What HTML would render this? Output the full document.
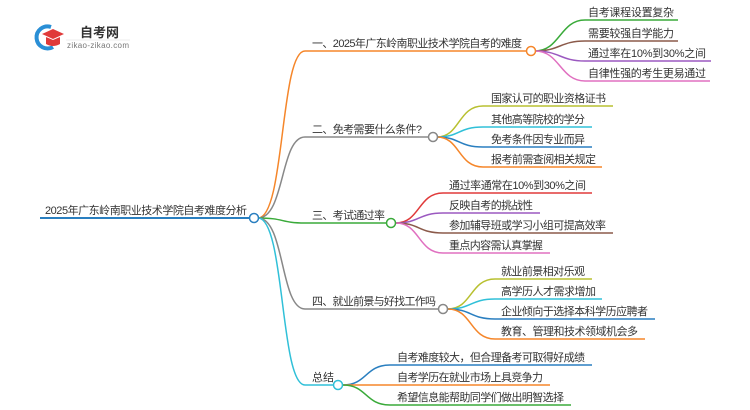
<!DOCTYPE html>
<html><head><meta charset="utf-8"><style>
html,body{margin:0;padding:0;background:#fff;}
svg{display:block;}
text{font-family:"Liberation Sans","Noto Sans CJK SC",sans-serif;font-size:11px;fill:#333;}
</style></head><body>
<svg width="750" height="410" viewBox="0 0 750 410" xmlns="http://www.w3.org/2000/svg">
<!-- logo -->
<path d="M51 27 A11 11 0 1 0 53 47" fill="none" stroke="#2a8fd6" stroke-width="4"/>
<path d="M42 34 L53 29 L64 34 L53 39 Z" fill="#e03a3a"/>
<path d="M46 37 L46 44 Q53 48 60 44 L60 37 L53 40 Z" fill="#e03a3a"/>
<text x="80" y="37" style="font-size:13px;font-weight:bold;fill:#333">自考网</text>
<line x1="66" y1="40" x2="130" y2="40" stroke="#ddd" stroke-width="0.6"/>
<text x="67" y="48" style="font-size:8px;fill:#777" textLength="62" lengthAdjust="spacing">zikao-zikao.com</text>

<g fill="none" stroke-width="1.5">
<path d="M258 218 C285 218 280 51 305 51 L527 51" stroke="#f5862a"/>
<path d="M258 218 C285 218 280 137 305 137 L428 137" stroke="#888"/>
<path d="M258 218 C285 218 280 223 305 223 L387 223" stroke="#3aaa3a"/>
<path d="M258 218 C285 218 280 309 305 309 L439 309" stroke="#888"/>
<path d="M258 218 C285 218 280 385 305 385 L334 385" stroke="#30c0d8"/>
<line x1="40" y1="218" x2="250" y2="218" stroke="#2a7fc0" stroke-width="2"/>
<path d="M535 51 C560 51 560 20 585 20 L678 20" stroke="#3aaa3a"/>
<path d="M535 51 C560 51 560 41 585 41 L678 41" stroke="#8b5a4a"/>
<path d="M535 51 C560 51 560 61 585 61 L711 61" stroke="#9b59c0"/>
<path d="M535 51 C560 51 560 81 585 81 L710 81" stroke="#e070c0"/>
<path d="M437 137 C460 137 458 106 483 106 L613 106" stroke="#b8c030"/>
<path d="M437 137 C460 137 458 127 483 127 L592 127" stroke="#30c0d8"/>
<path d="M437 137 C460 137 458 147 483 147 L592 147" stroke="#2a7fc0"/>
<path d="M437 137 C460 137 458 167 483 167 L602 167" stroke="#f5862a"/>
<path d="M396 223 C420 223 418 193 443 193 L592 193" stroke="#e03a3a"/>
<path d="M396 223 C420 223 418 213 443 213 L540 213" stroke="#9b59c0"/>
<path d="M396 223 C420 223 418 233 443 233 L613 233" stroke="#8b5a4a"/>
<path d="M396 223 C420 223 418 253 443 253 L550 253" stroke="#e070c0"/>
<path d="M448 309 C472 309 470 279 495 279 L592 279" stroke="#b8c030"/>
<path d="M448 309 C472 309 470 299 495 299 L602 299" stroke="#30c0d8"/>
<path d="M448 309 C472 309 470 319 495 319 L655 319" stroke="#2a7fc0"/>
<path d="M448 309 C472 309 470 339 495 339 L645 339" stroke="#f5862a"/>
<path d="M343 385 C367 385 365 365 390 365 L592 365" stroke="#2a7fc0"/>
<path d="M343 385 C367 385 365 385 390 385 L550 385" stroke="#f5862a"/>
<path d="M343 385 C367 385 365 405 390 405 L571 405" stroke="#3aaa3a"/>
</g>
<g fill="#fff" stroke-width="1.5">
<circle cx="254" cy="218" r="4.5" stroke="#2a7fc0"/>
<circle cx="531" cy="51" r="4.5" stroke="#f5862a"/>
<circle cx="433" cy="137" r="4.5" stroke="#888"/>
<circle cx="391" cy="223" r="4.5" stroke="#3aaa3a"/>
<circle cx="443" cy="309" r="4.5" stroke="#888"/>
<circle cx="338" cy="385" r="4.5" stroke="#30c0d8"/>
</g>
<g>
<text x="45" y="214" textLength="202" lengthAdjust="spacing">2025年广东岭南职业技术学院自考难度分析</text>
<text x="312" y="47" textLength="210" lengthAdjust="spacing">一、2025年广东岭南职业技术学院自考的难度</text>
<text x="312" y="133" textLength="110" lengthAdjust="spacing">二、免考需要什么条件?</text>
<text x="312" y="219" textLength="73" lengthAdjust="spacing">三、考试通过率</text>
<text x="312" y="305" textLength="124" lengthAdjust="spacing">四、就业前景与好找工作吗</text>
<text x="312" y="381" textLength="22" lengthAdjust="spacing">总结</text>

<text x="588" y="16" textLength="86" lengthAdjust="spacing">自考课程设置复杂</text>
<text x="588" y="37" textLength="86" lengthAdjust="spacing">需要较强自学能力</text>
<text x="588" y="57" textLength="118" lengthAdjust="spacing">通过率在10%到30%之间</text>
<text x="588" y="77" textLength="118" lengthAdjust="spacing">自律性强的考生更易通过</text>

<text x="491" y="102" textLength="115" lengthAdjust="spacing">国家认可的职业资格证书</text>
<text x="491" y="123" textLength="94" lengthAdjust="spacing">其他高等院校的学分</text>
<text x="491" y="143" textLength="94" lengthAdjust="spacing">免考条件因专业而异</text>
<text x="491" y="163" textLength="105" lengthAdjust="spacing">报考前需查阅相关规定</text>

<text x="449" y="189" textLength="137" lengthAdjust="spacing">通过率通常在10%到30%之间</text>
<text x="449" y="209" textLength="84" lengthAdjust="spacing">反映自考的挑战性</text>
<text x="449" y="229" textLength="157" lengthAdjust="spacing">参加辅导班或学习小组可提高效率</text>
<text x="449" y="249" textLength="94" lengthAdjust="spacing">重点内容需认真掌握</text>

<text x="501" y="275" textLength="84" lengthAdjust="spacing">就业前景相对乐观</text>
<text x="501" y="295" textLength="95" lengthAdjust="spacing">高学历人才需求增加</text>
<text x="501" y="315" textLength="147" lengthAdjust="spacing">企业倾向于选择本科学历应聘者</text>
<text x="501" y="335" textLength="137" lengthAdjust="spacing">教育、管理和技术领域机会多</text>

<text x="397" y="361" textLength="188" lengthAdjust="spacing">自考难度较大，但合理备考可取得好成绩</text>
<text x="397" y="381" textLength="146" lengthAdjust="spacing">自考学历在就业市场上具竞争力</text>
<text x="397" y="401" textLength="167" lengthAdjust="spacing">希望信息能帮助同学们做出明智选择</text>
</g>
</svg>
</body></html>
